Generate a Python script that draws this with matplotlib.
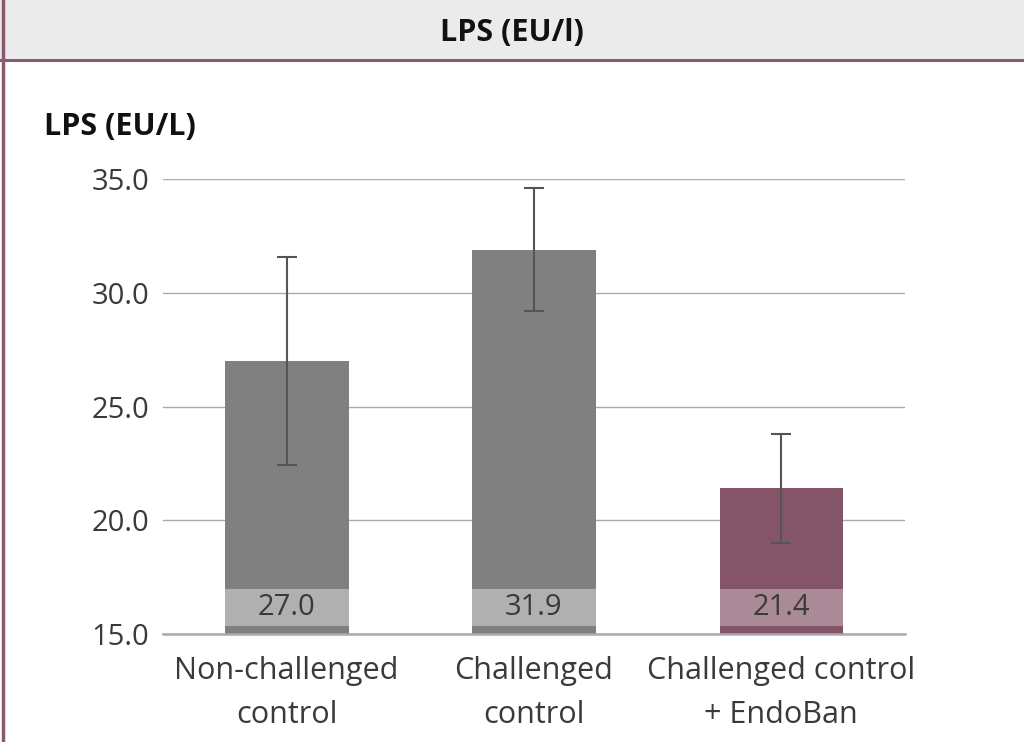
import matplotlib.pyplot as plt
from matplotlib.patches import Rectangle
from matplotlib.lines import Line2D

categories = ['Non-challenged\ncontrol', 'Challenged\ncontrol', 'Challenged control\n+ EndoBan']
values = [27.0, 31.9, 21.4]
errors = [4.55, 2.7, 2.4]
value_labels = ['27.0', '31.9', '21.4']
yticks = [15.0, 20.0, 25.0, 30.0, 35.0]

BAR_COLORS = ['#808080', '#808080', '#845468']
BAND_COLORS = ['#b0b0b0', '#b0b0b0', '#a98a96']
PURPLE = '#8a5a70'
TXT = '#3a3a3a'

plt.rcParams['font.family'] = ['Open Sans', 'DejaVu Sans']

fig = plt.figure(figsize=(10.24, 7.42), dpi=100)

# header band and border
fig.patches.append(Rectangle((0.0, 1 - 60 / 742), 1, 60 / 742, transform=fig.transFigure,
                             facecolor='#ebebeb', edgecolor='none', zorder=0))
fig.lines.append(Line2D([0, 1], [1 - 60 / 742] * 2, transform=fig.transFigure, color=PURPLE, lw=2.2))
fig.lines.append(Line2D([3 / 1024] * 2, [0, 1], transform=fig.transFigure, color=PURPLE, lw=2.5))
fig.text(0.5, 1 - 33 / 742, 'LPS (EU/l)', ha='center', va='center', fontsize=22, fontweight='bold',
         color='#111111')

ax = fig.add_axes([163 / 1024, 1 - 634 / 742, 742 / 1024, 455 / 742])
x = range(len(values))
ax.bar(x, [v - 15 for v in values], bottom=15, width=0.5, color=BAR_COLORS, zorder=2)
ax.errorbar(x, values, yerr=errors, fmt='none', ecolor='#555555', elinewidth=1.5, capsize=7,
            capthick=1.5, zorder=4)

# value label bands at the foot of each bar
for i in x:
    ax.add_patch(Rectangle((i - 0.25, 15.35), 0.5, 1.65, facecolor=BAND_COLORS[i], edgecolor='none',
                           zorder=3))
    ax.text(i, 16.15, value_labels[i], ha='center', va='center', fontsize=21, color=TXT, zorder=5)

ax.set_xlim(-0.5, 2.5)
ax.set_ylim(15, 35)
ax.set_yticks(yticks)
ax.set_yticklabels([f'{t:.1f}' for t in yticks], fontsize=21, color=TXT)
ax.set_xticks(list(x))
ax.set_xticklabels(categories, fontsize=22, color=TXT, linespacing=1.6)
ax.tick_params(axis='x', length=0, pad=16)
ax.tick_params(axis='y', length=0, pad=10)
ax.yaxis.grid(True, color='#aaaaaa', lw=1)
ax.set_axisbelow(True)
for s in ['top', 'right', 'left']:
    ax.spines[s].set_visible(False)
ax.spines['bottom'].set_color('#aaaaaa')
ax.spines['bottom'].set_linewidth(1.8)

fig.text(44 / 1024, 1 - 127 / 742, 'LPS (EU/L)', ha='left', va='center', fontsize=22, fontweight='bold',
         color='#111111')

fig.savefig('out.png', dpi=100)
